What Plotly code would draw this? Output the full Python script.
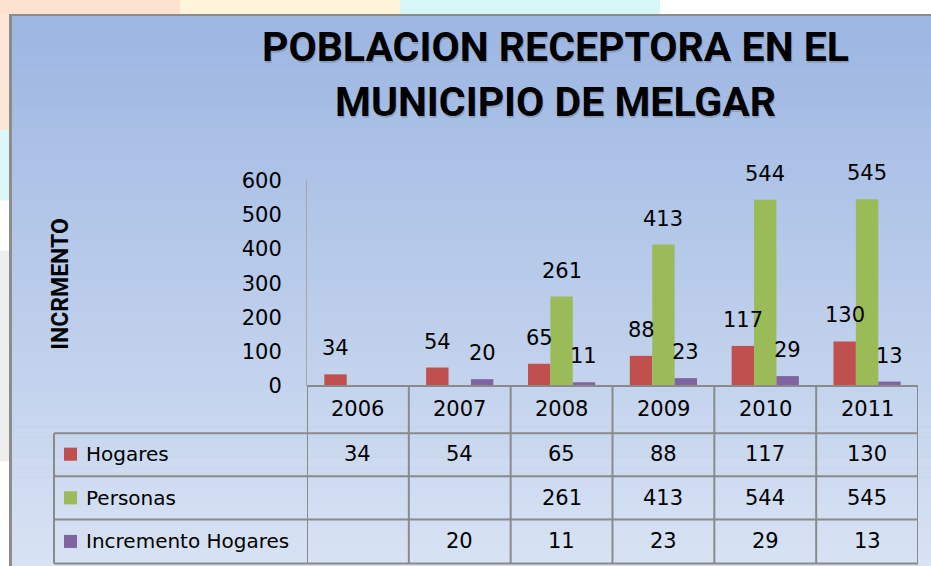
import plotly.graph_objects as go

# ---------------- data ----------------
years = ["2006", "2007", "2008", "2009", "2010", "2011"]
hogares = [34, 54, 65, 88, 117, 130]
personas = [None, None, 261, 413, 544, 545]
incremento = [None, 20, 11, 23, 29, 13]
series_names = ["Hogares", "Personas", "Incremento Hogares"]
series_colors = ["#C0504D", "#9BBB59", "#8064A2"]
y_ticks = [0, 100, 200, 300, 400, 500, 600]
title_lines = ["POBLACION RECEPTORA EN EL", "MUNICIPIO DE MELGAR"]
y_title = "INCRMENTO"

W, H = 931, 566
# the photographed page shows y_photo ~= 12 + 0.955 * y_page; place items by target photo pixels
Y_OFF, Y_SC = 12.0, 0.955


def px(x):
    return x / W


def py(y):
    yp = (y - Y_OFF) / Y_SC
    return 1 - yp / H


NUM_FONT = "DejaVu Sans"
TITLE_FONT = "Roboto"
fig = go.Figure()

series = [hogares, personas, incremento]
bar_w = 0.22
offsets = [-0.33, -0.11, 0.11]
xs = list(range(len(years)))
for name, vals, col, off in zip(series_names, series, series_colors, offsets):
    fig.add_trace(go.Bar(x=xs, y=vals, name=name, width=bar_w, offset=off,
                         marker=dict(color=col, line=dict(width=0)),
                         showlegend=False, hoverinfo="skip"))

shapes = []
annotations = []


def rect(x0, y0, x1, y1, color):
    shapes.append(dict(type="rect", xref="paper", yref="paper",
                       x0=px(x0), x1=px(x1), y0=min(1.05, py(y1)), y1=min(1.05, py(y0)),
                       fillcolor=color, line=dict(width=0), layer="below"))


def text(x, y, s, size, family=NUM_FONT, xref="paper", yref="paper",
         xanchor="center", yanchor="middle", color="#000", **kw):
    annotations.append(dict(x=x, y=y, xref=xref, yref=yref, text=s, showarrow=False,
                            xanchor=xanchor, yanchor=yanchor,
                            font=dict(family=family, size=size, color=color), **kw))


# ---- decorative page background outside chart frame ----
rect(0, 0, 180, 14, "#FDE3CF")
rect(180, 0, 400, 14, "#FFF5DA")
rect(400, 0, 660, 14, "#D6F7F8")
rect(0, 14, 9, 130, "#FDE6D6")
rect(0, 130, 9, 200, "#DDF6F8")
rect(0, 250, 9, 460, "#EDEDED")

# ---- chart frame + vertical gradient ----
rect(9, 14, 931, 600, "#8C8C8C")
top_c = (156, 182, 226)
bot_c = (216, 226, 243)
g0, g1 = 16, 566
n = 55
step = (g1 - g0) / n
for k in range(n):
    t = (k + 0.5) / n
    c = tuple(round(top_c[j] + (bot_c[j] - top_c[j]) * t) for j in range(3))
    rect(12, g0 + k * step, 931, g0 + (k + 1) * step + 0.6 + (30 if k == n - 1 else 0),
         "rgb(%d,%d,%d)" % c)

# ---- table lines ----
LC = "#8A8A8A"
LW = 2
row_y = [385, 432, 475, 518, 562]
for i, yy in enumerate(row_y):
    shapes.append(dict(type="line", xref="paper", yref="paper",
                       x0=px(307 if i == 0 else 54), x1=px(918), y0=py(yy), y1=py(yy),
                       line=dict(color=LC, width=LW)))
shapes.append(dict(type="line", xref="paper", yref="paper", x0=px(54), x1=px(54),
                   y0=py(432), y1=py(562), line=dict(color=LC, width=LW)))
for k in range(len(years) + 1):
    xv = k - 0.5
    shapes.append(dict(type="line", xref="x", yref="paper", x0=xv, x1=xv,
                       y0=py(385), y1=py(562), line=dict(color=LC, width=LW)))

# ---- year header ----
for i, yr in enumerate(years):
    text(i, py(408), yr, 21, xref="x")

# ---- table rows ----
row_centers = [453, 496.5, 540]
for name, vals, col, yc in zip(series_names, series, series_colors, row_centers):
    shapes.append(dict(type="rect", xref="paper", yref="paper", x0=px(64), x1=px(77),
                       y0=py(yc + 6.5), y1=py(yc - 6.5), fillcolor=col, line=dict(width=0)))
    text(px(84), py(yc), name, 20, xanchor="left")
    for i, v in enumerate(vals):
        if v is None:
            continue
        text(i, py(yc), str(v), 21, xref="x")

# ---- data labels above bars ----
for vals, off in zip(series, offsets):
    for i, v in enumerate(vals):
        if v is None:
            continue
        text(i + off + bar_w / 2, v, str(v), 21, xref="x", yref="y",
             yanchor="bottom", yshift=12)

# ---- title ----
for s, yc in zip(title_lines, [47, 102]):
    text(px(556.5), py(yc + 1.5), "<b>" + s + "</b>", 41, family=TITLE_FONT,
         color="rgba(60,60,60,0.22)")
    text(px(555), py(yc), "<b>" + s + "</b>", 41, family=TITLE_FONT)

# ---- y axis title ----
text(px(61), py(283), "<b>" + y_title + "</b>", 23, family=TITLE_FONT, textangle=-90)

fig.update_layout(
    width=W, height=H,
    margin=dict(l=0, r=0, t=0, b=0),
    paper_bgcolor="#FFFFFF",
    plot_bgcolor="#FFFFFF",
    barmode="overlay",
    xaxis=dict(domain=[px(307), px(918)], range=[-0.5, 5.5], showticklabels=False,
               showgrid=False, zeroline=False, showline=False, ticks=""),
    yaxis=dict(domain=[py(385), py(180)], range=[0, 600], tickvals=y_ticks,
               showgrid=False, zeroline=False, showline=True, linecolor="#A6A6A6",
               linewidth=1, ticks="", ticklabelstandoff=20,
               tickfont=dict(family=NUM_FONT, size=21, color="#000")),
    shapes=shapes,
    annotations=annotations,
)

fig.write_html("out.html", config={"displayModeBar": False},
               post_script="document.body.style.margin='0';document.body.style.padding='0';"
                           "document.documentElement.style.overflow='hidden';")
